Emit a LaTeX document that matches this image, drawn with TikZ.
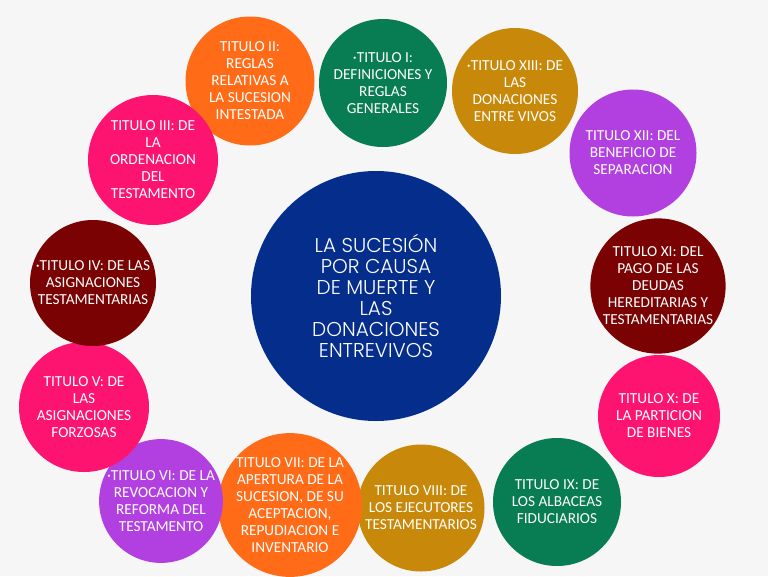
\documentclass[tikz,border=0pt]{standalone}
\usepackage{fontspec}
\setmainfont{Carlito}
\newfontfamily\centralfont{Poppins Light}
\definecolor{bgc}{RGB}{246,246,246}
\definecolor{corange}{RGB}{255,107,23}
\definecolor{cgreen}{RGB}{8,124,82}
\definecolor{cgold}{RGB}{200,137,10}
\definecolor{cpurple}{RGB}{178,64,224}
\definecolor{cdred}{RGB}{122,2,2}
\definecolor{cpink}{RGB}{252,20,112}
\definecolor{cblue}{RGB}{5,45,140}
\begin{document}
\begin{tikzpicture}[x=1pt,y=-1pt,
  bub/.style={circle, inner sep=0pt, text=white, align=center,
    font=\fontsize{15.3}{17}\selectfont},
  hub/.style={circle, inner sep=0pt, text=white, align=center, fill=cblue,
    minimum size=250pt, font=\centralfont\fontsize{20}{21}\selectfont}]
\fill[bgc] (0,0) rectangle (768,576);
\useasboundingbox (0,0) rectangle (768,576);
\node[hub] (c) at (376,296) {LA SUCESIÓN\\POR CAUSA\\DE MUERTE Y\\LAS\\DONACIONES\\ENTREVIVOS};
\node[bub, fill=corange, minimum size=129pt] (t2) at (250,81) {TITULO II:\\REGLAS\\RELATIVAS A\\LA SUCESION\\INTESTADA};
\node[bub, fill=cgreen, minimum size=128pt] (t1) at (383,83) {·TITULO I:\\DEFINICIONES Y\\REGLAS\\GENERALES};
\node[bub, fill=cgold, minimum size=126pt] (t13) at (515,91) {·TITULO XIII: DE\\LAS\\DONACIONES\\ENTRE VIVOS};
\node[bub, fill=cpurple, minimum size=127pt] (t12) at (633,153) {TITULO XII: DEL\\BENEFICIO DE\\SEPARACION};
\node[bub, fill=cdred, minimum size=125pt] (t11) at (658,286) {TITULO XI: DEL\\PAGO DE LAS\\DEUDAS\\HEREDITARIAS Y\\TESTAMENTARIAS};
\node[bub, fill=cpink, minimum size=122pt] (t10) at (659,416) {TITULO X: DE\\LA PARTICION\\DE BIENES};
\node[bub, fill=cgreen, minimum size=128pt] (t9) at (557,502) {TITULO IX: DE\\LOS ALBACEAS\\FIDUCIARIOS};
\node[bub, fill=cgold, minimum size=127pt] (t8) at (421,508) {TITULO VIII: DE\\LOS EJECUTORES\\TESTAMENTARIOS};
\node[bub, fill=corange, minimum size=124pt] (t7) at (290,505) {TITULO VII: DE LA\\APERTURA DE LA\\SUCESION, DE SU\\ACEPTACION,\\REPUDIACION E\\INVENTARIO};
\node[bub, fill=cpurple, minimum size=119pt] (t6) at (161,501) {·TITULO VI: DE LA\\REVOCACION Y\\REFORMA DEL\\TESTAMENTO};
\node[bub, fill=cpink, minimum size=130pt] (t5) at (84,407) {TITULO V: DE\\LAS\\ASIGNACIONES\\FORZOSAS};
\node[bub, fill=cdred, minimum size=126pt] (t4) at (93,283) {·TITULO IV: DE LAS\\ASIGNACIONES\\TESTAMENTARIAS};
\node[bub, fill=cpink, minimum size=130pt] (t3) at (153,160) {TITULO III: DE\\LA\\ORDENACION\\DEL\\TESTAMENTO};
\end{tikzpicture}
\end{document}
